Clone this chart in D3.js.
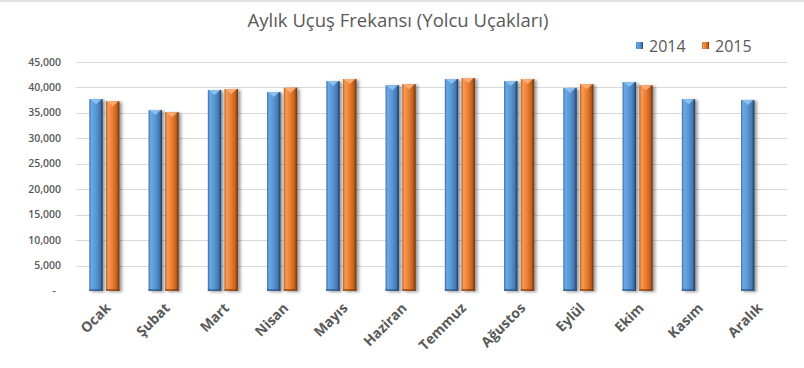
<!DOCTYPE html>
<html><head><meta charset="utf-8">
<script src="https://cdn.jsdelivr.net/npm/d3@7"></script>
<style>html,body{margin:0;padding:0;background:#fff;}svg{display:block;}</style>
</head><body>
<svg id="c" width="804" height="368"></svg>
<script>
const months = ["Ocak","Şubat","Mart","Nisan","Mayıs","Haziran","Temmuz","Ağustos","Eylül","Ekim","Kasım","Aralık"];
const series = ["2014","2015"];
const values2014 = [37700,35550,39500,39100,41250,40450,41650,41250,39900,41050,37700,37550];
const values2015 = [37300,35150,39700,39950,41650,40650,41850,41650,40650,40450,null,null];
const yTicks = [0,5000,10000,15000,20000,25000,30000,35000,40000,45000];
const title = "Aylık Uçuş Frekansı (Yolcu Uçakları)";

const data = months.map((m,i)=>({month:m, vals:[{s:"2014",v:values2014[i]},{s:"2015",v:values2015[i]}]}));

const svg = d3.select("#c");
const L=76, R=787, T=62, B=291;
const FONT = "'Open Sans', sans-serif";

const x = d3.scaleBand().domain(months).range([L,R]).padding(0);
const bw = x.bandwidth();
const xi = d3.scaleBand().domain(series).range([0.225*bw, 0.733*bw]).paddingInner(0.2).paddingOuter(0);
const y = d3.scaleLinear().domain([0,45000]).range([B,T]);

const defs = svg.append("defs");
const grad = (id, stops) => {
  const g = defs.append("linearGradient").attr("id",id).attr("x1","0").attr("x2","1").attr("y1","0").attr("y2","0");
  stops.forEach(([o,c])=>g.append("stop").attr("offset",o).attr("stop-color",c));
};
grad("gb",[["0","#3a6ca6"],["0.15","#6aa9e4"],["0.5","#5796d2"],["0.8","#4679b3"],["1","#1d3859"]]);
grad("go",[["0","#b65a1a"],["0.15","#f89a55"],["0.5","#ec7c30"],["0.8","#c0621f"],["1","#6a310b"]]);
const f = defs.append("filter").attr("id","sh").attr("x","-30%").attr("y","-5%").attr("width","180%").attr("height","115%");
f.append("feDropShadow").attr("dx",2.5).attr("dy",1).attr("stdDeviation",1.4).attr("flood-color","#000").attr("flood-opacity",0.4);
const f2 = defs.append("filter").attr("id","sh2").attr("x","-5%").attr("y","-200%").attr("width","110%").attr("height","500%");
f2.append("feDropShadow").attr("dx",1).attr("dy",2).attr("stdDeviation",1.2).attr("flood-color","#000").attr("flood-opacity",0.35);

// outer top border
svg.append("line").attr("x1",0).attr("x2",804).attr("y1",1).attr("y2",1).attr("stroke","#d9d9d9").attr("stroke-width",1.5);

// title
svg.append("text").attr("x",398).attr("y",27).attr("text-anchor","middle")
  .attr("font-family",FONT).attr("font-size",18.5).attr("fill","#595959").text(title);

// gridlines
svg.append("g").selectAll("line").data(yTicks.filter(d=>d>0)).join("line")
  .attr("x1",L).attr("x2",R).attr("y1",d=>Math.round(y(d))+0.5).attr("y2",d=>Math.round(y(d))+0.5)
  .attr("stroke","#d9d9d9").attr("stroke-width",1);

// y labels
svg.append("g").selectAll("text").data(yTicks).join("text")
  .attr("x",d=>d===0?56:61).attr("y",d=>y(d)+3.5).attr("text-anchor","end")
  .attr("font-family",FONT).attr("font-size",10.5).attr("font-weight",600).attr("fill","#595959")
  .text(d=>d===0?"-":d3.format(",")(d));

// right border & axis
svg.append("line").attr("x1",R).attr("x2",R).attr("y1",T).attr("y2",B).attr("stroke","#bfbfbf").attr("stroke-width",1.5).attr("filter","url(#sh2)");
svg.append("line").attr("x1",L).attr("x2",R).attr("y1",B+0.5).attr("y2",B+0.5).attr("stroke","#8c8c8c").attr("stroke-width",1.5).attr("filter","url(#sh2)");

// bars
const grp = svg.append("g").selectAll("g").data(data).join("g").attr("transform",d=>`translate(${x(d.month)},0)`);
const bars = grp.selectAll("g").data(d=>d.vals.filter(v=>v.v!=null)).join("g");
bars.append("rect")
  .attr("x",d=>xi(d.s)).attr("width",xi.bandwidth())
  .attr("y",d=>y(d.v)).attr("height",d=>B-y(d.v))
  .attr("fill",d=>d.s==="2014"?"url(#gb)":"url(#go)").attr("filter","url(#sh)");
bars.append("path")
  .attr("d",d=>{const x0=xi(d.s), w=xi.bandwidth(), t=y(d.v);
    return `M${x0+1},${t}L${x0+w-1},${t}L${x0+w/2},${t+5}Z`;})
  .attr("fill",d=>d.s==="2014"?"#8fc3f2":"#fbb27c").attr("opacity",0.9);
bars.append("rect")
  .attr("x",d=>xi(d.s)).attr("width",xi.bandwidth())
  .attr("y",d=>B-2).attr("height",2)
  .attr("fill",d=>d.s==="2014"?"#2b5280":"#7a3a10").attr("opacity",0.6);

// x labels
svg.append("g").selectAll("text").data(months).join("text")
  .attr("transform",d=>`translate(${x(d)+bw/2-1},${302}) rotate(-45)`)
  .attr("text-anchor","end").attr("dy","0.7em")
  .attr("font-family",FONT).attr("font-size",14).attr("font-weight",700).attr("fill","#595959")
  .text(d=>d);

// legend
const leg = svg.append("g");
const legX = [636,702];
series.forEach((s,i)=>{
  leg.append("rect").attr("x",legX[i]).attr("y",42).attr("width",7).attr("height",7)
    .attr("fill",i===0?"url(#gb)":"url(#go)");
  leg.append("text").attr("x",legX[i]+13).attr("y",52).attr("font-family",FONT).attr("font-size",16)
    .attr("fill","#595959").text(s);
});
</script>
</body></html>
